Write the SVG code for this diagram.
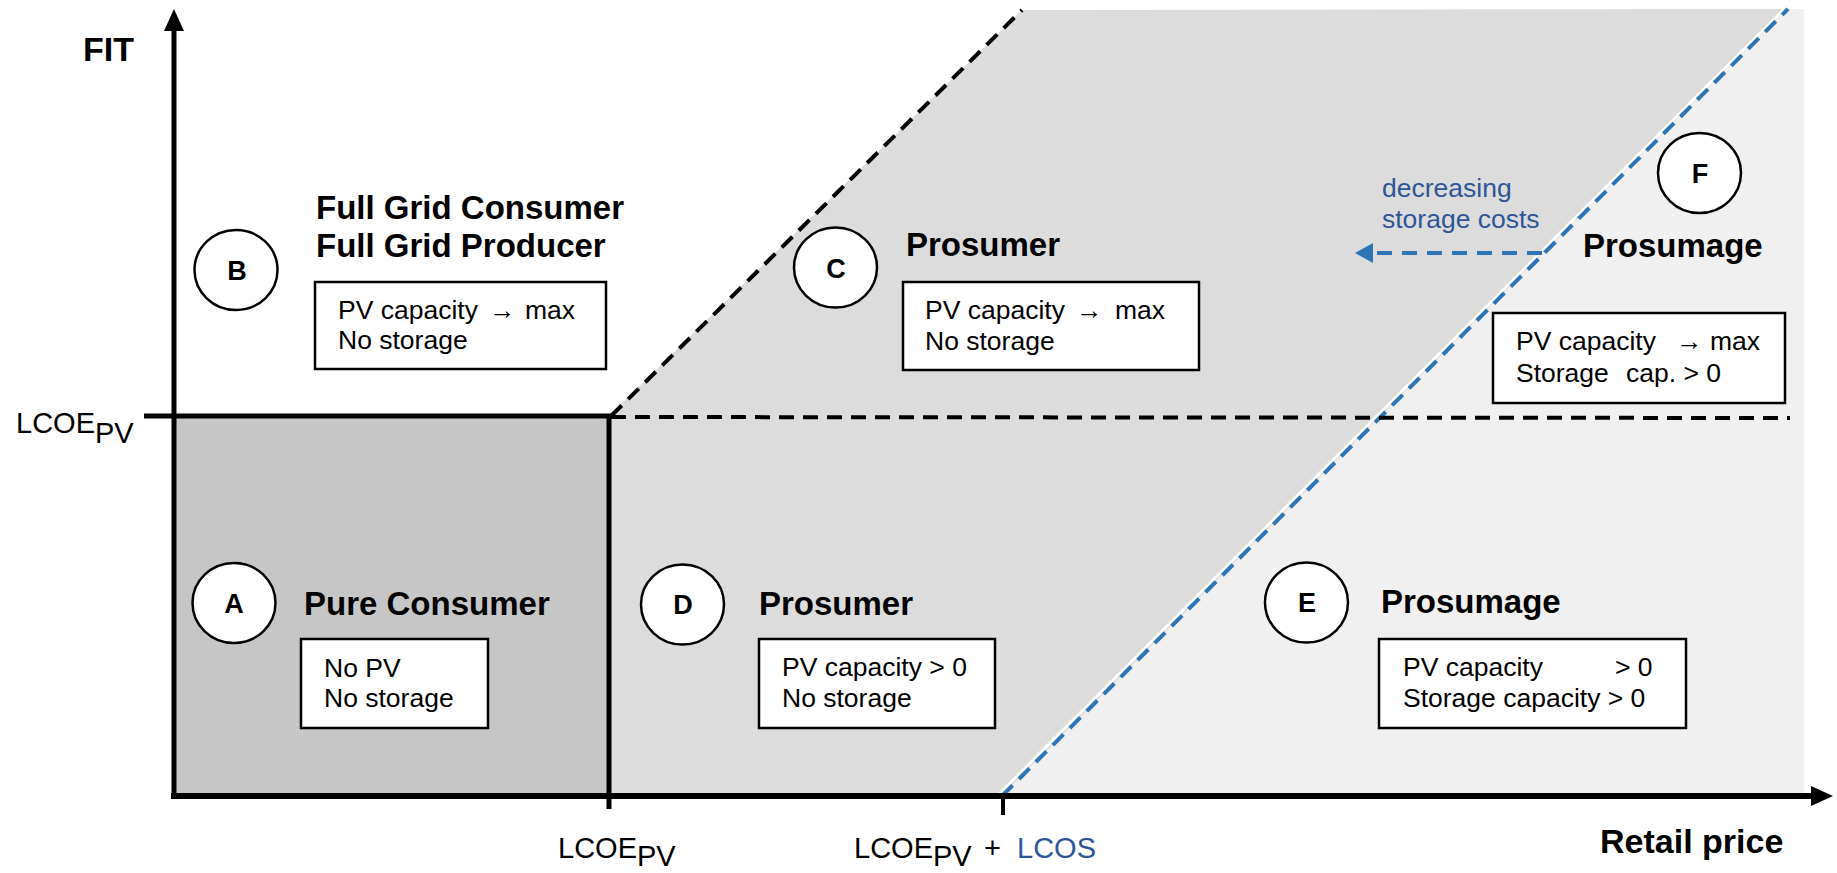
<svg xmlns="http://www.w3.org/2000/svg" width="1837" height="873" viewBox="0 0 1837 873">
<style>
text{font-family:"Liberation Sans",Arial,sans-serif;fill:#000}
.t{font-size:33px;font-weight:bold}
.ax{font-size:34px;font-weight:bold}
.bx{font-size:26.5px}
.lb{font-size:29px}
.blue{fill:#2f5597}
.circ{fill:#fff;stroke:#000;stroke-width:2.5}
.ltr{font-size:27px;font-weight:bold;text-anchor:middle}
.box{fill:#fff;stroke:#000;stroke-width:2.5}
.solid{stroke:#000;stroke-width:5;fill:none}
.dash{stroke:#000;stroke-width:4;stroke-dasharray:15 9;fill:none}
.bdash{stroke:#2e75b6;stroke-width:4;stroke-dasharray:15 9;fill:none}
</style>
<rect width="1837" height="873" fill="#fff"/>
<g id="shading">
<polygon points="609,416 1022,10 1787,9 1002,796 609,796" fill="#dcdcdc"/>
<polygon points="1787,9 1804,9 1804,796 1002,796" fill="#f0f0f0"/>
<rect x="174" y="416" width="435" height="380" fill="#c6c6c6"/>
</g>
<g id="connectors">
<line x1="1001" y1="795" x2="1786" y2="10" stroke="#fff" stroke-width="3" transform="translate(-2,-1)"/>
<line class="bdash" x1="1002" y1="796" x2="1788" y2="9"/>
<line class="dash" x1="611" y1="416" x2="1022" y2="10"/>
<line class="dash" x1="611" y1="417" x2="1790" y2="418"/>
<line class="solid" x1="144" y1="416" x2="611" y2="416"/>
<line class="solid" x1="609" y1="414" x2="609" y2="809"/>
<line stroke="#000" stroke-width="4" x1="1003" y1="796" x2="1003" y2="815"/>
<line stroke="#000" stroke-width="5" x1="174" y1="799" x2="174" y2="26"/>
<polygon points="174,9 164,31 184,31"/>
<line stroke="#000" stroke-width="6" x1="171" y1="796" x2="1814" y2="796"/>
<polygon points="1833,796 1811,786 1811,806"/>
<line stroke="#2e75b6" stroke-width="4" stroke-dasharray="15 10" x1="1542" y1="253" x2="1372" y2="253"/>
<polygon points="1355,253 1373,243 1373,263" fill="#2e75b6"/>
</g>
<g id="labels">
<text class="ax" x="83" y="61">FIT</text>
<text class="ax" x="1600" y="853">Retail price</text>
<text class="lb" x="16" y="433">LCOE<tspan dy="10">PV</tspan></text>
<text class="lb" x="558" y="858">LCOE<tspan dy="8">PV</tspan></text>
<text class="lb" x="854" y="858">LCOE<tspan dy="8">PV</tspan></text>
<text class="lb" x="984" y="858">+</text>
<text class="lb blue" x="1017" y="858">LCOS</text>
<text class="bx blue" x="1382" y="197">decreasing</text>
<text class="bx blue" x="1382" y="228">storage costs</text>
</g>
<g id="node-A">
<ellipse class="circ" cx="234" cy="603" rx="41.5" ry="40"/>
<text class="ltr" x="234" y="613">A</text>
<text class="t" x="304" y="615">Pure Consumer</text>
<rect class="box" x="301" y="639" width="187" height="89"/>
<text class="bx" x="324" y="677">No PV</text>
<text class="bx" x="324" y="707">No storage</text>
</g>
<g id="node-B">
<ellipse class="circ" cx="236" cy="270" rx="41.5" ry="40"/>
<text class="ltr" x="237" y="280">B</text>
<text class="t" x="316" y="219">Full Grid Consumer</text>
<text class="t" x="316" y="257">Full Grid Producer</text>
<rect class="box" x="315" y="282" width="291" height="87"/>
<text class="bx" x="338" y="319">PV capacity <tspan x="489">→</tspan><tspan x="525">max</tspan></text>
<text class="bx" x="338" y="349">No storage</text>
</g>
<g id="node-C">
<ellipse class="circ" cx="835.5" cy="267.5" rx="41.5" ry="40"/>
<text class="ltr" x="836" y="278">C</text>
<text class="t" x="906" y="256">Prosumer</text>
<rect class="box" x="903" y="282" width="296" height="88"/>
<text class="bx" x="925" y="319">PV capacity <tspan x="1076">→</tspan><tspan x="1115">max</tspan></text>
<text class="bx" x="925" y="350">No storage</text>
</g>
<g id="node-D">
<ellipse class="circ" cx="682.5" cy="604.5" rx="41.5" ry="40"/>
<text class="ltr" x="683" y="614">D</text>
<text class="t" x="759" y="615">Prosumer</text>
<rect class="box" x="759" y="639" width="236" height="89"/>
<text class="bx" x="782" y="676">PV capacity &gt; 0</text>
<text class="bx" x="782" y="707">No storage</text>
</g>
<g id="node-E">
<ellipse class="circ" cx="1306.5" cy="602.5" rx="41.5" ry="40"/>
<text class="ltr" x="1307" y="612">E</text>
<text class="t" x="1381" y="613">Prosumage</text>
<rect class="box" x="1379" y="639" width="307" height="89"/>
<text class="bx" x="1403" y="676">PV capacity<tspan x="1615">&gt; 0</tspan></text>
<text class="bx" x="1403" y="707">Storage capacity &gt; 0</text>
</g>
<g id="node-F">
<ellipse class="circ" cx="1699.5" cy="173" rx="41.5" ry="40"/>
<text class="ltr" x="1700" y="183">F</text>
<text class="t" x="1583" y="257">Prosumage</text>
<rect class="box" x="1493" y="313" width="292" height="90"/>
<text class="bx" x="1516" y="350">PV capacity <tspan x="1676">→</tspan><tspan x="1710">max</tspan></text>
<text class="bx" x="1516" y="382">Storage <tspan x="1626">cap. &gt; 0</tspan></text>
</g>
</svg>
